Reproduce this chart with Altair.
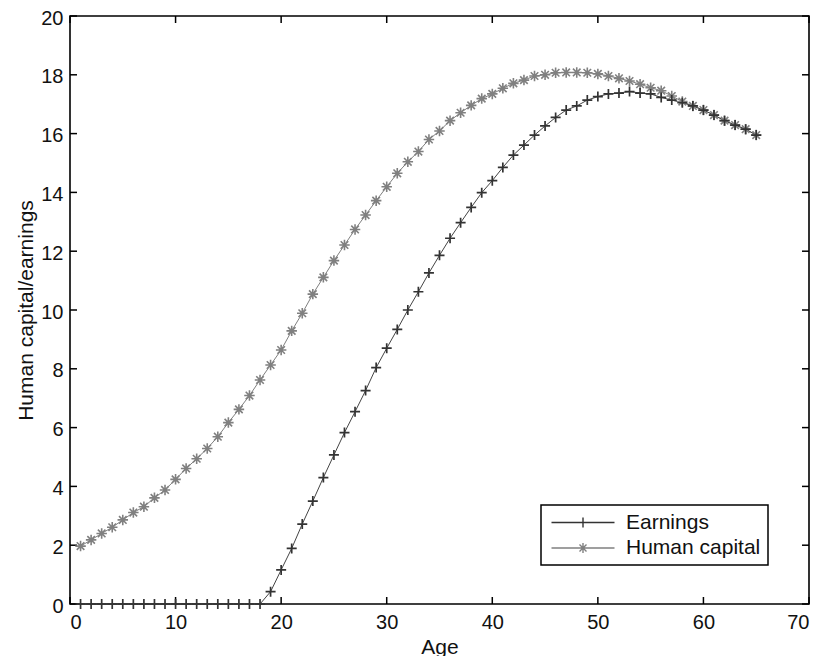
import altair as alt
import pandas as pd

ages = list(range(1, 66))
earnings = [0.0] * 18 + [
    0.42, 1.16, 1.89, 2.72, 3.50, 4.30, 5.07, 5.83, 6.54, 7.26,
    8.04, 8.70, 9.34, 10.00, 10.62, 11.26, 11.86, 12.44, 12.97, 13.49,
    13.99, 14.40, 14.85, 15.27, 15.61, 15.95, 16.26, 16.55, 16.80, 16.94,
    17.14, 17.26, 17.35, 17.38, 17.43, 17.38, 17.35, 17.23, 17.14, 17.05,
    16.94, 16.80, 16.63, 16.44, 16.29, 16.15, 15.95,
]
human_capital = [
    1.97, 2.18, 2.40, 2.61, 2.86, 3.11, 3.31, 3.61, 3.88, 4.24,
    4.61, 4.94, 5.29, 5.69, 6.17, 6.62, 7.09, 7.62, 8.13, 8.64,
    9.29, 9.89, 10.54, 11.11, 11.68, 12.21, 12.74, 13.23, 13.72, 14.19,
    14.65, 15.04, 15.39, 15.80, 16.09, 16.44, 16.71, 16.96, 17.19, 17.35,
    17.54, 17.71, 17.82, 17.96, 18.00, 18.07, 18.08, 18.08, 18.07, 18.03,
    17.96, 17.88, 17.79, 17.68, 17.56, 17.46, 17.28, 17.09, 16.94, 16.80,
    16.63, 16.44, 16.29, 16.15, 15.95,
]
series_names = ["Earnings", "Human capital"]
x_ticks = [0, 10, 20, 30, 40, 50, 60, 70]
y_ticks = [0, 2, 4, 6, 8, 10, 12, 14, 16, 18, 20]

W, H = 739, 588
DARK = "#333333"
LIGHT = "#808080"
FONT = "Liberation Sans"

rows = []
for a, e, h in zip(ages, earnings, human_capital):
    rows.append({"age": a, "value": e, "series": series_names[0]})
    rows.append({"age": a, "value": h, "series": series_names[1]})
df = pd.DataFrame(rows)
xt = pd.DataFrame({"t": x_ticks})
yt = pd.DataFrame({"t": y_ticks})

xscale = alt.Scale(domain=[0, 70], nice=False, zero=False)
yscale = alt.Scale(domain=[0, 20], nice=False, zero=False)

X = alt.X("age:Q", scale=xscale,
          axis=alt.Axis(values=x_ticks, title="Age", ticks=False, domain=False,
                        grid=False, labelPadding=8, titlePadding=4,
                        labelFontSize=20, titleFontSize=21, labelFont=FONT,
                        titleFont=FONT, titleFontWeight="normal",
                        labelColor="#111", titleColor="#111"))
Y = alt.Y("value:Q", scale=yscale,
          axis=alt.Axis(values=y_ticks, title="Human capital/earnings", ticks=False,
                        domain=False, grid=False, labelPadding=7, titlePadding=4,
                        labelOffset=2,
                        labelFontSize=20, titleFontSize=21, labelFont=FONT,
                        titleFont=FONT, titleFontWeight="normal",
                        labelColor="#111", titleColor="#111"))

plus_path = "M-1,0L1,0M0,-1L0,1"
star_path = "M-1,0L1,0M0,-1L0,1M-0.72,-0.72L0.72,0.72M-0.72,0.72L0.72,-0.72"
leg_plus = "M-1,0L8,0M3.5,-0.72L3.5,0.72"
leg_star = ("M-1,0L8,0M3.5,-0.7L3.5,0.7M3,-0.5L4,0.5"
            "M3,0.5L4,-0.5")

base = alt.Chart(df)
ticks_xb = alt.Chart(xt).mark_rule(color="black", strokeWidth=1.5).encode(
    x=alt.X("t:Q", scale=xscale), y=alt.value(H), y2=alt.value(H - 7))
ticks_xt = alt.Chart(xt).mark_rule(color="black", strokeWidth=1.5).encode(
    x=alt.X("t:Q", scale=xscale), y=alt.value(0), y2=alt.value(7))
ticks_yl = alt.Chart(yt).mark_rule(color="black", strokeWidth=1.5).encode(
    y=alt.Y("t:Q", scale=yscale), x=alt.value(0), x2=alt.value(7))
ticks_yr = alt.Chart(yt).mark_rule(color="black", strokeWidth=1.5).encode(
    y=alt.Y("t:Q", scale=yscale), x=alt.value(W - 7), x2=alt.value(W))

line_e = base.transform_filter(alt.datum.series == series_names[0]).mark_line(
    color="#444444", strokeWidth=1).encode(x=X, y=Y)
line_h = base.transform_filter(alt.datum.series == series_names[1]).mark_line(
    color=LIGHT, strokeWidth=1).encode(x=X, y=Y)
pts_e = base.transform_filter(alt.datum.series == series_names[0]).mark_point(
    shape=plus_path, size=100, filled=False, color=DARK, strokeWidth=1.7,
    opacity=1).encode(x=X, y=Y)
pts_h = base.transform_filter(alt.datum.series == series_names[1]).mark_point(
    shape=star_path, size=110, filled=False, color=LIGHT, strokeWidth=1.6,
    opacity=1).encode(x=X, y=Y)

legend_layer = base.mark_point(filled=False, opacity=0).encode(
    x=X, y=Y,
    color=alt.Color("series:N",
                    scale=alt.Scale(domain=series_names, range=[DARK, LIGHT]),
                    legend=alt.Legend(title=None, orient="none", legendX=471,
                                      legendY=489, strokeColor="black",
                                      fillColor="white", padding=7,
                                      labelFontSize=21, labelFont=FONT,
                                      labelColor="#111", labelOffset=57,
                                      labelExpr="datum.label + '\u00a0'",
                                      rowPadding=3.5, symbolSize=196,
                                      symbolStrokeWidth=1.4,
                                      symbolFillColor="transparent")),
    shape=alt.Shape("series:N",
                    scale=alt.Scale(domain=series_names, range=[leg_plus, leg_star])),
)

chart = alt.layer(ticks_xb, ticks_xt, ticks_yl, ticks_yr, line_h, line_e,
                  pts_h, pts_e, legend_layer).properties(
    width=W, height=H,
    autosize=alt.AutoSizeParams(type="none"),
    padding={"left": 62, "top": 8, "right": 6, "bottom": 60},
    background="white",
).configure_view(stroke="black", strokeWidth=1.6).configure_legend(
    strokeWidth=1.5)

chart.save("out.html", embed_options={"renderer": "svg", "actions": False})
